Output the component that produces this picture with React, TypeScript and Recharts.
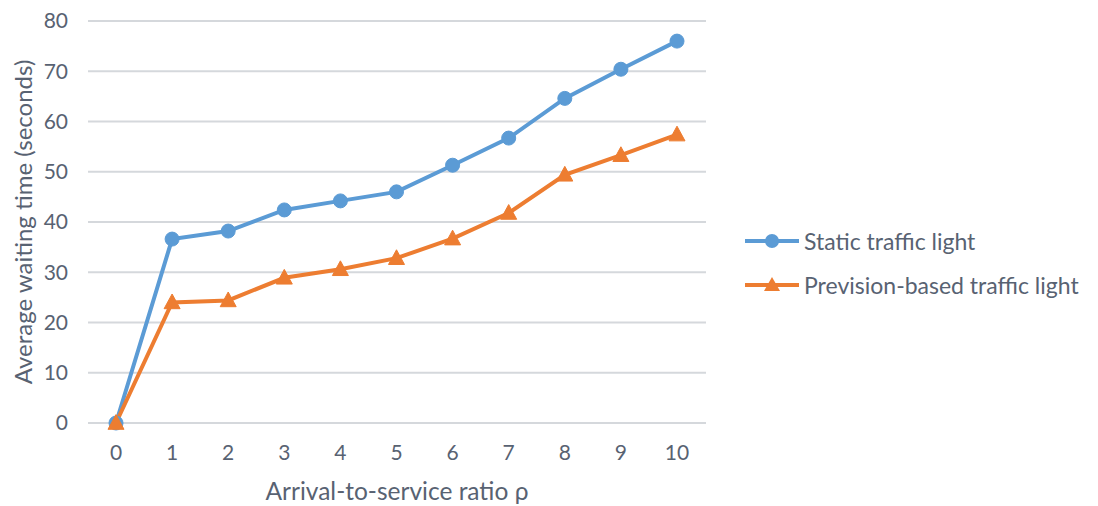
import React from "react";
import { LineChart, Line, XAxis, YAxis, CartesianGrid, Legend, Label } from "recharts";

const categories = ["0", "1", "2", "3", "4", "5", "6", "7", "8", "9", "10"];
const staticValues = [0, 36.6, 38.2, 42.4, 44.2, 46.0, 51.3, 56.7, 64.6, 70.4, 76.0];
const previsionValues = [0, 24.0, 24.4, 28.9, 30.6, 32.8, 36.7, 41.8, 49.4, 53.3, 57.4];
const yTicks = [0, 10, 20, 30, 40, 50, 60, 70, 80];
const seriesNames = ["Static traffic light", "Prevision-based traffic light"];

const data = categories.map((c, i) => ({
  x: c,
  s: staticValues[i],
  p: previsionValues[i],
}));

const BLUE = "#5b9bd5";
const ORANGE = "#ed7d31";
const TEXT = "#586272";
const FONT = "Lato, 'Open Sans', sans-serif";

const Triangle = (props: any) => {
  const { cx, cy } = props;
  if (cx == null || cy == null) return null;
  const h = 14;
  const w = 16;
  return (
    <polygon
      key={`t-${props.index}`}
      points={`${cx},${cy - h * 0.6} ${cx - w / 2},${cy + h * 0.45} ${cx + w / 2},${cy + h * 0.45}`}
      fill={ORANGE}
      stroke={ORANGE}
      strokeWidth={1}
    />
  );
};

const LegendContent = (props: any) => {
  const { payload } = props;
  const entries = ["s", "p"]
    .map((k) => (payload || []).find((e: any) => e.dataKey === k))
    .filter(Boolean);
  return (
    <div style={{ fontFamily: FONT, fontSize: 23, color: TEXT }}>
      {entries.map((e: any, i: number) => (
        <div key={i} style={{ display: "flex", alignItems: "center", height: 44 }}>
          <svg width={56} height={20} style={{ marginRight: 3 }}>
            <line x1={0} y1={10} x2={54} y2={10} stroke={e.color} strokeWidth={4} />
            {e.dataKey === "s" ? (
              <circle cx={27} cy={10} r={7} fill={e.color} />
            ) : (
              <polygon points="27,2 19,16 35,16" fill={e.color} />
            )}
          </svg>
          <span>{e.value}</span>
        </div>
      ))}
    </div>
  );
};

const YLabel = (props: any) => {
  const vb = props.viewBox || {};
  const cy = vb.y + vb.height / 2;
  const x = 22;
  return (
    <text
      x={x}
      y={cy}
      transform={`rotate(-90, ${x}, ${cy})`}
      textAnchor="middle"
      dominantBaseline="central"
      fill={TEXT}
      fontSize={24}
      fontFamily={FONT}
    >
      Average waiting time (seconds)
    </text>
  );
};

const XLabel = () => (
  <text x={397} y={500} textAnchor="middle" fill={TEXT} fontSize={24.5} fontFamily={FONT}>
    Arrival-to-service ratio ρ
  </text>
);

export default function App() {
  return (
    <div style={{ position: "absolute", left: 0, top: 0, background: "#fff" }}>
      <LineChart
        width={1098}
        height={506}
        data={data}
        margin={{ top: 21, right: 392, bottom: 53, left: 0 }}
      >
        <CartesianGrid vertical={false} stroke="#d5d8dc" strokeWidth={2} />
        <XAxis
          dataKey="x"
          height={30}
          axisLine={false}
          tickLine={false}
          tickSize={0}
          tickMargin={22}
          padding={{ left: 28, right: 29 }}
          tick={{ fill: TEXT, fontSize: 21, fontFamily: FONT }}
          interval={0}
        >
          <Label content={XLabel} />
        </XAxis>
        <YAxis
          width={88}
          domain={[0, 80]}
          ticks={yTicks}
          axisLine={false}
          tickLine={false}
          tickSize={0}
          tickMargin={20}
          tick={{ fill: TEXT, fontSize: 21, fontFamily: FONT }}
        >
          <Label content={YLabel} />
        </YAxis>
        <Legend
          layout="vertical"
          align="center"
          verticalAlign="middle"
          content={LegendContent}
          wrapperStyle={{ left: 745, top: 219, width: 353 }}
        />
        <Line
          type="linear"
          dataKey="s"
          name={seriesNames[0]}
          stroke={BLUE}
          strokeWidth={4}
          dot={{ r: 7, fill: BLUE, stroke: BLUE, strokeWidth: 1 }}
          activeDot={false}
          isAnimationActive={false}
        />
        <Line
          type="linear"
          dataKey="p"
          name={seriesNames[1]}
          stroke={ORANGE}
          strokeWidth={4}
          dot={Triangle}
          activeDot={false}
          isAnimationActive={false}
        />
      </LineChart>
    </div>
  );
}
